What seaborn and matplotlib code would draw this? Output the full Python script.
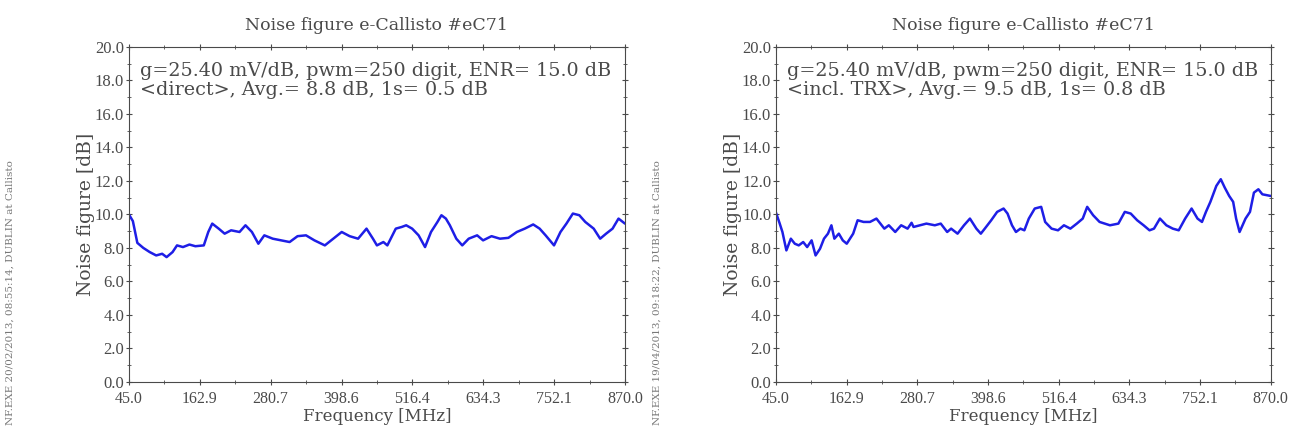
import numpy as np
import pandas as pd
import matplotlib
matplotlib.use("Agg")
import matplotlib.pyplot as plt
import seaborn as sns
from matplotlib.ticker import MultipleLocator, FixedLocator

# x positions read in the zoomed picture (0 = 45 MHz, 1 = 870 MHz)
direct_pos = [0.000, 0.008, 0.017, 0.029, 0.042, 0.055, 0.067, 0.076, 0.088, 0.097,
              0.109, 0.122, 0.134, 0.151, 0.160, 0.168, 0.181, 0.193, 0.206, 0.223,
              0.235, 0.248, 0.261, 0.273, 0.290, 0.307, 0.324, 0.340, 0.357, 0.374,
              0.395, 0.412, 0.429, 0.445, 0.462, 0.479, 0.492, 0.500, 0.513, 0.521,
              0.538, 0.550, 0.559, 0.571, 0.584, 0.597, 0.609, 0.622, 0.630, 0.639,
              0.647, 0.660, 0.672, 0.685, 0.702, 0.714, 0.731, 0.748, 0.765, 0.782,
              0.798, 0.815, 0.828, 0.840, 0.857, 0.870, 0.882, 0.895, 0.908, 0.920,
              0.937, 0.950, 0.962, 0.975, 0.987, 1.000]
direct_nf = [10.0, 9.6, 8.3, 8.0, 7.75, 7.55, 7.65, 7.45, 7.75, 8.15,
             8.05, 8.2, 8.1, 8.15, 8.95, 9.45, 9.15, 8.85, 9.05, 8.95,
             9.35, 8.95, 8.25, 8.75, 8.55, 8.45, 8.35, 8.7, 8.75, 8.45,
             8.15, 8.55, 8.95, 8.7, 8.55, 9.15, 8.55, 8.15, 8.35, 8.15,
             9.15, 9.25, 9.35, 9.15, 8.75, 8.05, 8.95, 9.55, 9.95, 9.75,
             9.35, 8.55, 8.15, 8.55, 8.75, 8.45, 8.7, 8.55, 8.6, 8.95,
             9.15, 9.4, 9.15, 8.75, 8.15, 8.95, 9.45, 10.05, 9.95, 9.55,
             9.15, 8.55, 8.85, 9.15, 9.75, 9.45]

trx_pos = [0.000, 0.007, 0.013, 0.021, 0.030, 0.038, 0.046, 0.055, 0.063, 0.072,
           0.080, 0.089, 0.097, 0.105, 0.112, 0.118, 0.127, 0.135, 0.143, 0.156,
           0.165, 0.177, 0.190, 0.203, 0.211, 0.219, 0.228, 0.241, 0.253, 0.266,
           0.274, 0.278, 0.291, 0.304, 0.321, 0.333, 0.346, 0.354, 0.367, 0.380,
           0.392, 0.405, 0.414, 0.422, 0.435, 0.447, 0.460, 0.468, 0.477, 0.485,
           0.494, 0.502, 0.511, 0.523, 0.536, 0.544, 0.557, 0.570, 0.582, 0.595,
           0.608, 0.620, 0.629, 0.641, 0.654, 0.675, 0.692, 0.705, 0.717, 0.730,
           0.743, 0.755, 0.764, 0.776, 0.789, 0.802, 0.814, 0.827, 0.840, 0.852,
           0.861, 0.869, 0.878, 0.890, 0.899, 0.907, 0.916, 0.924, 0.930, 0.937,
           0.949, 0.958, 0.966, 0.975, 0.983, 1.000]
trx_nf = [10.1, 9.5, 8.95, 7.85, 8.55, 8.25, 8.15, 8.35, 8.05, 8.45,
          7.55, 7.95, 8.55, 8.85, 9.35, 8.55, 8.85, 8.45, 8.25, 8.85,
          9.65, 9.55, 9.55, 9.75, 9.45, 9.15, 9.35, 8.95, 9.35, 9.15,
          9.5, 9.25, 9.35, 9.45, 9.35, 9.45, 8.95, 9.15, 8.85, 9.35,
          9.75, 9.15, 8.85, 9.15, 9.65, 10.15, 10.35, 10.05, 9.35, 8.95,
          9.15, 9.05, 9.75, 10.35, 10.45, 9.55, 9.15, 9.05, 9.35, 9.15,
          9.45, 9.75, 10.45, 9.95, 9.55, 9.35, 9.45, 10.15, 10.05, 9.65,
          9.35, 9.05, 9.15, 9.75, 9.35, 9.15, 9.05, 9.75, 10.35, 9.75,
          9.55, 10.15, 10.75, 11.7, 12.1, 11.6, 11.1, 10.75, 9.75, 8.95,
          9.75, 10.15, 11.3, 11.5, 11.2, 11.1]

f_min, f_max = 45.0, 870.0
x_ticks = [45.0, 162.9, 280.7, 398.6, 516.4, 634.3, 752.1, 870.0]

titles = ["Noise figure e-Callisto #eC71", "Noise figure e-Callisto #eC71"]
notes = ["g=25.40 mV/dB, pwm=250 digit, ENR= 15.0 dB\n<direct>, Avg.= 8.8 dB, 1s= 0.5 dB",
         "g=25.40 mV/dB, pwm=250 digit, ENR= 15.0 dB\n<incl. TRX>, Avg.= 9.5 dB, 1s= 0.8 dB"]
stamps = ["NF.EXE 20/02/2013, 08:55:14, DUBLIN at Callisto",
          "NF.EXE 19/04/2013, 09:18:22, DUBLIN at Callisto"]

sns.set_style("ticks")
plt.rcParams['font.family'] = ['Liberation Serif', 'DejaVu Serif']
wide = ['DejaVu Serif']
grey = "#4a4a4a"

fig = plt.figure(figsize=(13.02, 4.34), dpi=100)
boxes = [[0.099, 0.12, 0.381, 0.772], [0.596, 0.12, 0.380, 0.772]]
series = [(direct_pos, direct_nf), (trx_pos, trx_nf)]
stamp_x = [0.004, 0.501]

for i in range(2):
    ax = fig.add_axes(boxes[i])
    pos, nf = series[i]
    df = pd.DataFrame({"freq": f_min + np.array(pos) * (f_max - f_min), "nf": nf})
    sns.lineplot(data=df, x="freq", y="nf", ax=ax, color="#1e1ee6", lw=1.8)
    ax.set_xlim(f_min, f_max)
    ax.set_ylim(0, 20)
    ax.xaxis.set_major_locator(FixedLocator(x_ticks))
    ax.xaxis.set_minor_locator(FixedLocator([(a + b) / 2 for a, b in zip(x_ticks[:-1], x_ticks[1:])]))
    ax.set_xticklabels([f"{t:.1f}" for t in x_ticks])
    ax.yaxis.set_major_locator(MultipleLocator(2))
    ax.yaxis.set_minor_locator(MultipleLocator(1))
    ax.yaxis.set_major_formatter(matplotlib.ticker.FormatStrFormatter("%.1f"))
    ax.tick_params(which="both", direction="inout", top=True, right=True,
                   colors=grey, labelsize=12, length=5, pad=1)
    ax.tick_params(axis="x", labelsize=11.5, pad=4)
    ax.tick_params(which="minor", length=3)
    for s in ax.spines.values():
        s.set_visible(True)
        s.set_color(grey)
    ax.set_xlabel("Frequency [MHz]", fontsize=12, color=grey, labelpad=1, family=wide)
    ax.set_ylabel("Noise figure [dB]", fontsize=13.5, color=grey, labelpad=0, family=wide)
    ax.set_title(titles[i], fontsize=12.5, color=grey, pad=12, family=wide)
    ax.text(0.022, 0.955, notes[i], transform=ax.transAxes, va="top", ha="left",
            fontsize=13.8, color=grey, linespacing=1.05, family=wide)
    fig.text(stamp_x[i], 0.02, stamps[i], rotation=90, fontsize=7.5,
             color="#777777", va="bottom", ha="left", family=wide)

fig.savefig("out.png", dpi=100, facecolor="white")
